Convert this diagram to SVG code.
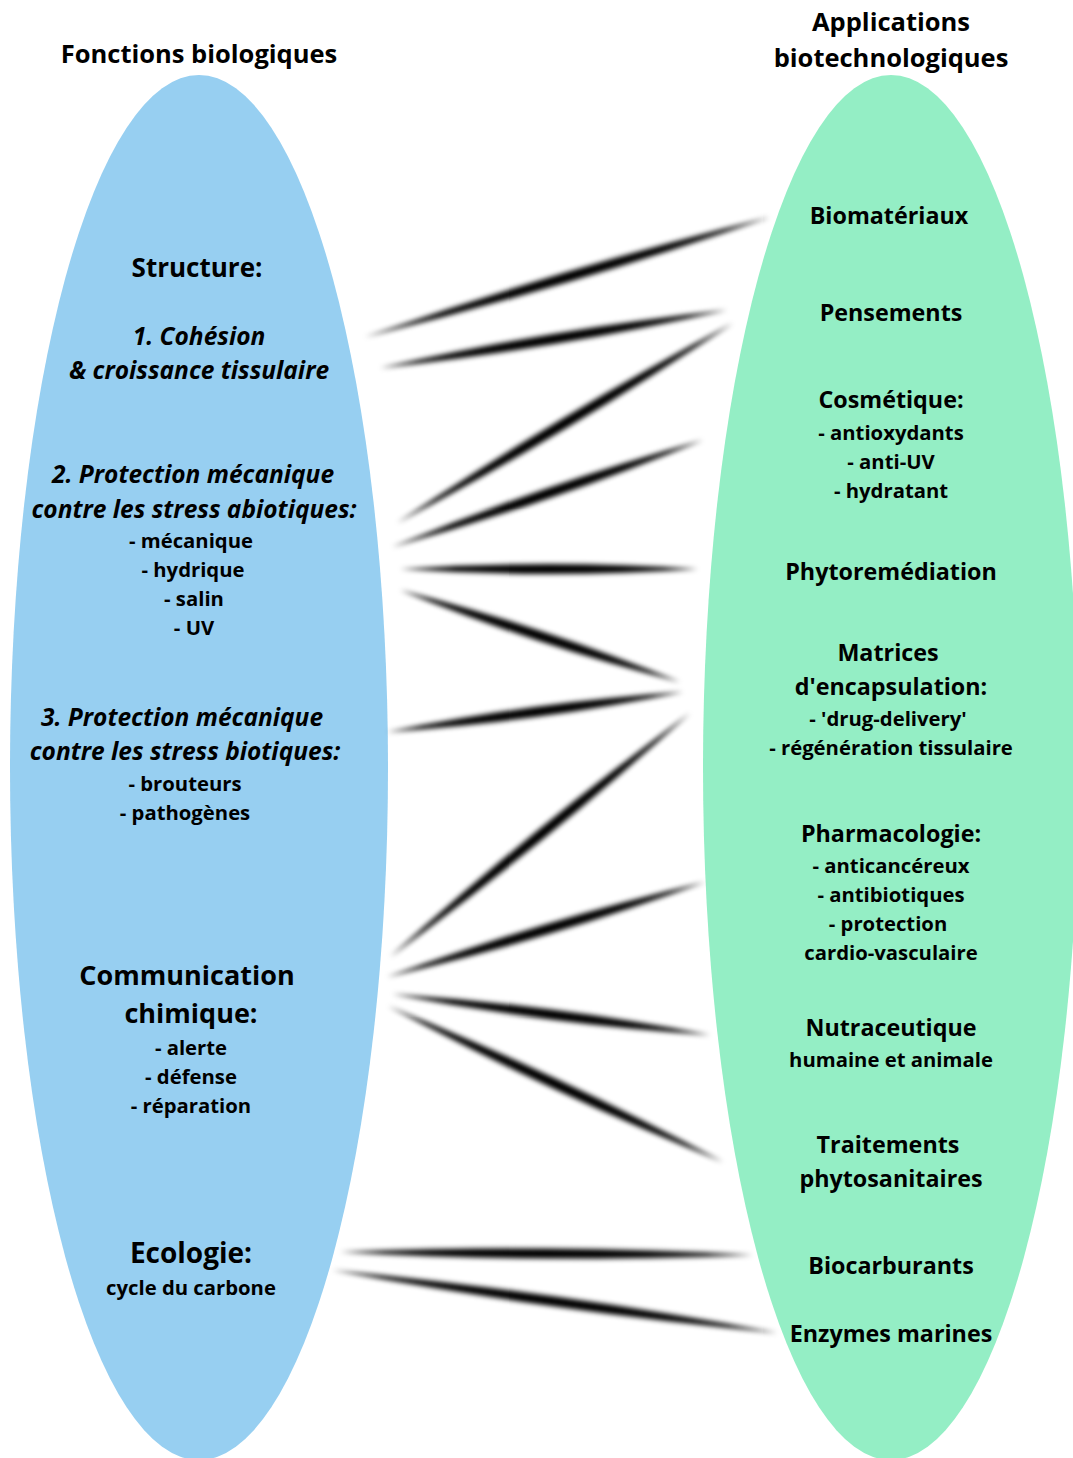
<svg xmlns="http://www.w3.org/2000/svg" width="1073" height="1458" viewBox="0 0 1073 1458">
<defs>
<filter id="blur" x="-10%" y="-400%" width="120%" height="900%">
<feGaussianBlur stdDeviation="2.7"/>
</filter>
<style>
text{font-family:"Open Sans","Noto Sans","DejaVu Sans",sans-serif;font-weight:700;fill:#000;text-anchor:middle}
.hd{font-size:25.5px}
.t1{font-size:27px}
.t2{font-size:23.3px}
.it{font-size:24.5px;font-style:italic}
.sm{font-size:20.3px}
.spin{fill:#000;filter:url(#blur)}
</style>
</defs>
<rect width="1073" height="1458" fill="#fff"/>
<g id="left-ellipse"><ellipse cx="199" cy="767.5" rx="189" ry="692.5" fill="#97cff1"/></g>
<g id="right-ellipse"><ellipse cx="891" cy="767.5" rx="188" ry="692.5" fill="#94eec5"/></g>

<g id="connectors">
<path class="spin" transform="translate(365,337) rotate(-16.5)" d="M0,0 Q211,-10 422,0 Q211,10 0,0Z"/>
<path class="spin" transform="translate(380,368) rotate(-9.49)" d="M0,0 Q176,-10 352,0 Q176,10 0,0Z"/>
<path class="spin" transform="translate(397,523) rotate(-30.76)" d="M0,0 Q195,-10 391,0 Q195,10 0,0Z"/>
<path class="spin" transform="translate(392,547) rotate(-18.98)" d="M0,0 Q164,-10 329,0 Q164,10 0,0Z"/>
<path class="spin" transform="translate(400,569) rotate(0)" d="M0,0 Q149,-10 298,0 Q149,10 0,0Z"/>
<path class="spin" transform="translate(400,590) rotate(18.19)" d="M0,0 Q147,-10 295,0 Q147,10 0,0Z"/>
<path class="spin" transform="translate(387,732) rotate(-7.7)" d="M0,0 Q149,-10 299,0 Q149,10 0,0Z"/>
<path class="spin" transform="translate(390,957) rotate(-39.12)" d="M0,0 Q193,-10 387,0 Q193,10 0,0Z"/>
<path class="spin" transform="translate(387,977) rotate(-16.63)" d="M0,0 Q166,-10 332,0 Q166,10 0,0Z"/>
<path class="spin" transform="translate(392,994) rotate(7.35)" d="M0,0 Q160,-10 321,0 Q160,10 0,0Z"/>
<path class="spin" transform="translate(388,1006) rotate(24.97)" d="M0,0 Q185,-10 370,0 Q185,10 0,0Z"/>
<path class="spin" transform="translate(340,1252) rotate(0.42)" d="M0,0 Q206,-10 413,0 Q206,10 0,0Z"/>
<path class="spin" transform="translate(332,1270) rotate(8.04)" d="M0,0 Q225,-10 450,0 Q225,10 0,0Z"/>
</g>

<g id="title-left"><text class="hd" x="199" y="63">Fonctions biologiques</text></g>
<g id="title-right"><text class="hd" x="891" y="31">Applications</text><text class="hd" x="891" y="67">biotechnologiques</text></g>

<g id="structure">
<text class="t1" x="197" y="277" style="font-size:26px">Structure:</text>
<text class="it" x="199" y="345">1. Cohésion</text>
<text class="it" x="199" y="379">&amp; croissance tissulaire</text>
</g>
<g id="abiotic">
<text class="it" x="193" y="483">2. Protection mécanique</text>
<text class="it" x="194" y="518">contre les stress abiotiques:</text>
<text class="sm" x="191" y="548">- mécanique</text>
<text class="sm" x="193" y="577">- hydrique</text>
<text class="sm" x="194" y="606">- salin</text>
<text class="sm" x="194" y="635">- UV</text>
</g>
<g id="biotic">
<text class="it" x="182" y="726">3. Protection mécanique</text>
<text class="it" x="185" y="760">contre les stress biotiques:</text>
<text class="sm" x="185" y="791">- brouteurs</text>
<text class="sm" x="185" y="820">- pathogènes</text>
</g>
<g id="communication">
<text class="t1" x="187" y="985">Communication</text>
<text class="t1" x="191" y="1023">chimique:</text>
<text class="sm" x="191" y="1055">- alerte</text>
<text class="sm" x="191" y="1084">- défense</text>
<text class="sm" x="191" y="1113">- réparation</text>
</g>
<g id="ecologie">
<text class="t1" x="191" y="1263" style="font-size:28px">Ecologie:</text>
<text class="sm" x="191" y="1295">cycle du carbone</text>
</g>

<g id="biomateriaux"><text class="t2" x="889" y="224">Biomatériaux</text></g>
<g id="pensements"><text class="t2" x="891" y="321">Pensements</text></g>
<g id="cosmetique">
<text class="t2" x="891" y="408">Cosmétique:</text>
<text class="sm" x="891" y="440">- antioxydants</text>
<text class="sm" x="891" y="469">- anti-UV</text>
<text class="sm" x="891" y="498">- hydratant</text>
</g>
<g id="phytoremediation"><text class="t2" x="891" y="580">Phytoremédiation</text></g>
<g id="matrices">
<text class="t2" x="888" y="661">Matrices</text>
<text class="t2" x="891" y="695">d'encapsulation:</text>
<text class="sm" x="888" y="726">- 'drug-delivery'</text>
<text class="sm" x="891" y="755">- régénération tissulaire</text>
</g>
<g id="pharmacologie">
<text class="t2" x="891" y="842">Pharmacologie:</text>
<text class="sm" x="891" y="873">- anticancéreux</text>
<text class="sm" x="891" y="902">- antibiotiques</text>
<text class="sm" x="888" y="931">- protection</text>
<text class="sm" x="891" y="960">cardio-vasculaire</text>
</g>
<g id="nutraceutique">
<text class="t2" x="891" y="1036">Nutraceutique</text>
<text class="sm" x="891" y="1067">humaine et animale</text>
</g>
<g id="traitements">
<text class="t2" x="888" y="1153">Traitements</text>
<text class="t2" x="891" y="1187">phytosanitaires</text>
</g>
<g id="biocarburants"><text class="t2" x="891" y="1274">Biocarburants</text></g>
<g id="enzymes"><text class="t2" x="891" y="1342">Enzymes marines</text></g>
</svg>
